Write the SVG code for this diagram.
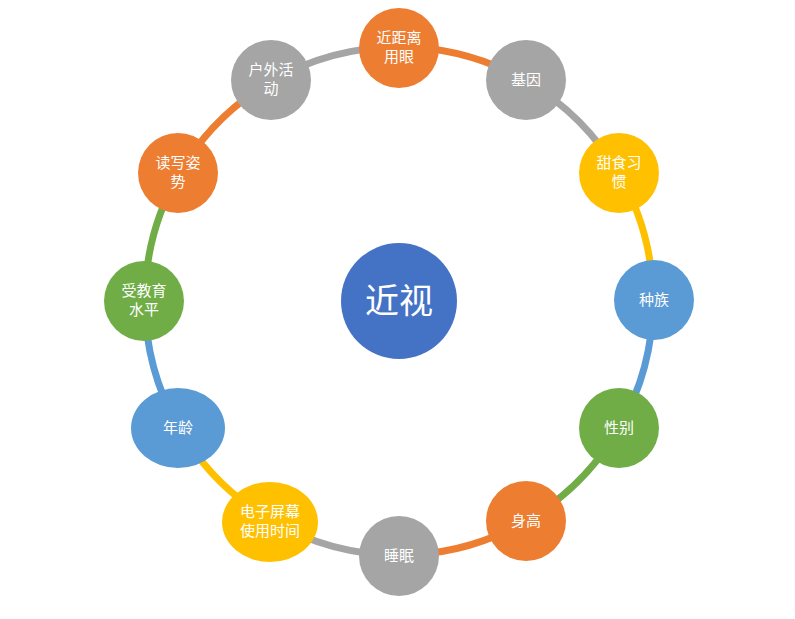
<svg xmlns="http://www.w3.org/2000/svg" width="795" height="619" viewBox="0 0 795 619">
<style>
.t{font-family:"Liberation Sans","Noto Sans CJK SC",sans-serif;font-size:15px;fill:#fff;text-anchor:middle}
.a{fill:none;stroke-width:7}
.o{fill:#ED7D31}.g{fill:#A5A5A5}.y{fill:#FFC000}.b{fill:#5B9BD5}.gr{fill:#70AD47}
</style>
<rect width="795" height="619" fill="#fff"/>
<g id="connectors">
<path class="a" stroke="#ED7D31" d="M399 47A254 254 0 0 1 526 81"/>
<path class="a" stroke="#A5A5A5" d="M526 81A254 254 0 0 1 619 174"/>
<path class="a" stroke="#FFC000" d="M619 174A254 254 0 0 1 653 301"/>
<path class="a" stroke="#5B9BD5" d="M653 301A254 254 0 0 1 619 428"/>
<path class="a" stroke="#70AD47" d="M619 428A254 254 0 0 1 526 521"/>
<path class="a" stroke="#ED7D31" d="M526 521A254 254 0 0 1 399 555"/>
<path class="a" stroke="#A5A5A5" d="M399 555A254 254 0 0 1 272 521"/>
<path class="a" stroke="#FFC000" d="M272 521A254 254 0 0 1 179 428"/>
<path class="a" stroke="#5B9BD5" d="M179 428A254 254 0 0 1 145 301"/>
<path class="a" stroke="#70AD47" d="M145 301A254 254 0 0 1 179 174"/>
<path class="a" stroke="#ED7D31" d="M179 174A254 254 0 0 1 272 81"/>
<path class="a" stroke="#A5A5A5" d="M272 81A254 254 0 0 1 399 47"/>
</g>
<g id="center"><circle cx="399" cy="301" r="58" fill="#4472C4"/><text x="399" y="313" class="t" style="font-size:34px">近视</text></g>
<g id="n1"><circle class="o" cx="399" cy="48" r="40"/><text class="t" x="399" y="43">近距离</text><text class="t" x="399" y="62">用眼</text></g>
<g id="n2"><circle class="g" cx="526" cy="80" r="40"/><text class="t" x="526" y="85">基因</text></g>
<g id="n3"><circle class="y" cx="619" cy="173" r="40"/><text class="t" x="619" y="168">甜食习</text><text class="t" x="619" y="187">惯</text></g>
<g id="n4"><circle class="b" cx="654" cy="300" r="40"/><text class="t" x="654" y="305">种族</text></g>
<g id="n5"><circle class="gr" cx="619" cy="428" r="40"/><text class="t" x="619" y="433">性别</text></g>
<g id="n6"><circle class="o" cx="526" cy="521" r="40"/><text class="t" x="526" y="526">身高</text></g>
<g id="n7"><circle class="g" cx="399" cy="556" r="40"/><text class="t" x="399" y="561">睡眠</text></g>
<g id="n8"><ellipse class="y" cx="270" cy="522" rx="48" ry="40"/><text class="t" x="270" y="517">电子屏幕</text><text class="t" x="270" y="536">使用时间</text></g>
<g id="n9"><ellipse class="b" cx="178" cy="428" rx="47" ry="40"/><text class="t" x="178" y="433">年龄</text></g>
<g id="n10"><circle class="gr" cx="144" cy="301" r="40"/><text class="t" x="144" y="296">受教育</text><text class="t" x="144" y="315">水平</text></g>
<g id="n11"><circle class="o" cx="178" cy="173" r="40"/><text class="t" x="178" y="168">读写姿</text><text class="t" x="178" y="187">势</text></g>
<g id="n12"><circle class="g" cx="271" cy="80" r="40"/><text class="t" x="271" y="75">户外活</text><text class="t" x="271" y="94">动</text></g>
</svg>
